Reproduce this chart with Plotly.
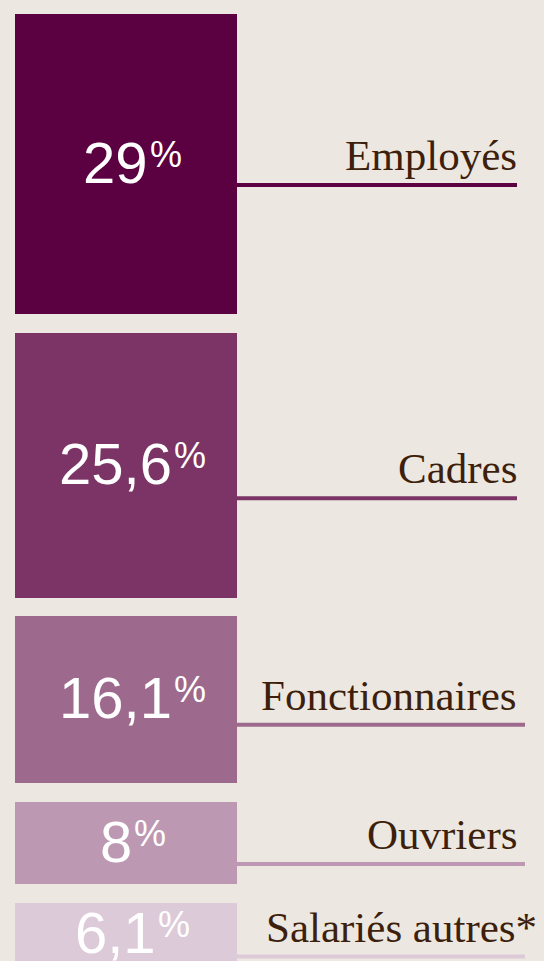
import plotly.graph_objects as go

# Data
categories = ["Employés", "Cadres", "Fonctionnaires", "Ouvriers", "Salariés autres*"]
values = [29.0, 25.6, 16.1, 8.0, 6.1]
value_labels = ["29", "25,6", "16,1", "8", "6,1"]

# Style
colors = ["#5b0041", "#7b3465", "#9d6a8e", "#bd98b3", "#ddcad8"]
bg = "#ece8e1"
text_color = "#3d1f0c"
gap = 1.8                      # gap between blocks, in percent units
px_per_unit = 961 / 92.85
rule_offsets_px = [21, 33, 25, 21, 22]   # rule position below block centre
line_ends = [517, 517, 525, 525, 525]
label_right = [519, 519, 519, 519, 539]
num_size = 58
pct_size = 36
label_size = 43

bases = []
acc = 0.0
for v in values:
    bases.append(acc)
    acc += v + gap
centers = [b + v / 2 for b, v in zip(bases, values)]

fig = go.Figure()
fig.add_trace(go.Bar(
    x=[126] * len(values), y=values, base=bases, width=222,
    marker=dict(color=colors, line=dict(width=0)),
    hoverinfo="skip", showlegend=False,
))

for c, cy, col, xe, off, xr in zip(categories, centers, colors, line_ends,
                                   rule_offsets_px, label_right):
    ly = cy + off / px_per_unit
    fig.add_trace(go.Scatter(
        x=[237, xe], y=[ly, ly], mode="lines",
        line=dict(color=col, width=4), hoverinfo="skip", showlegend=False,
    ))
    fig.add_annotation(
        x=xr, y=ly, xref="x", yref="y", text=c, showarrow=False,
        xanchor="right", yanchor="bottom", yshift=4,
        font=dict(family="Liberation Serif, serif", size=label_size, color=text_color),
    )

char_w = {",": 0.278}
for lab, cy in zip(value_labels, centers):
    nw = sum(char_w.get(ch, 0.556) for ch in lab) * num_size
    pw = 0.8 * pct_size
    x0 = 131 - (nw + pw) / 2 + nw
    fig.add_annotation(
        x=x0, y=cy, xref="x", yref="y", text=lab, yshift=2,
        showarrow=False, xanchor="right", yanchor="middle", borderpad=0,
        font=dict(family="Liberation Sans, Arial, sans-serif", size=num_size, color="white"),
    )
    fig.add_annotation(
        x=x0, y=cy, xref="x", yref="y", text="%", yshift=10,
        showarrow=False, xanchor="left", yanchor="middle", borderpad=0,
        font=dict(family="Liberation Sans, Arial, sans-serif", size=pct_size, color="white"),
    )

fig.update_layout(
    width=544, height=961,
    margin=dict(l=0, r=0, t=0, b=0),
    paper_bgcolor=bg, plot_bgcolor=bg,
    xaxis=dict(range=[0, 544], visible=False, fixedrange=True),
    yaxis=dict(range=[91.5, -1.35], visible=False, fixedrange=True),
    bargap=0,
)

fig.write_html(
    "out.html",
    config={"displayModeBar": False, "staticPlot": True},
    post_script="document.body.style.margin='0';document.body.style.background='%s';" % bg,
)
